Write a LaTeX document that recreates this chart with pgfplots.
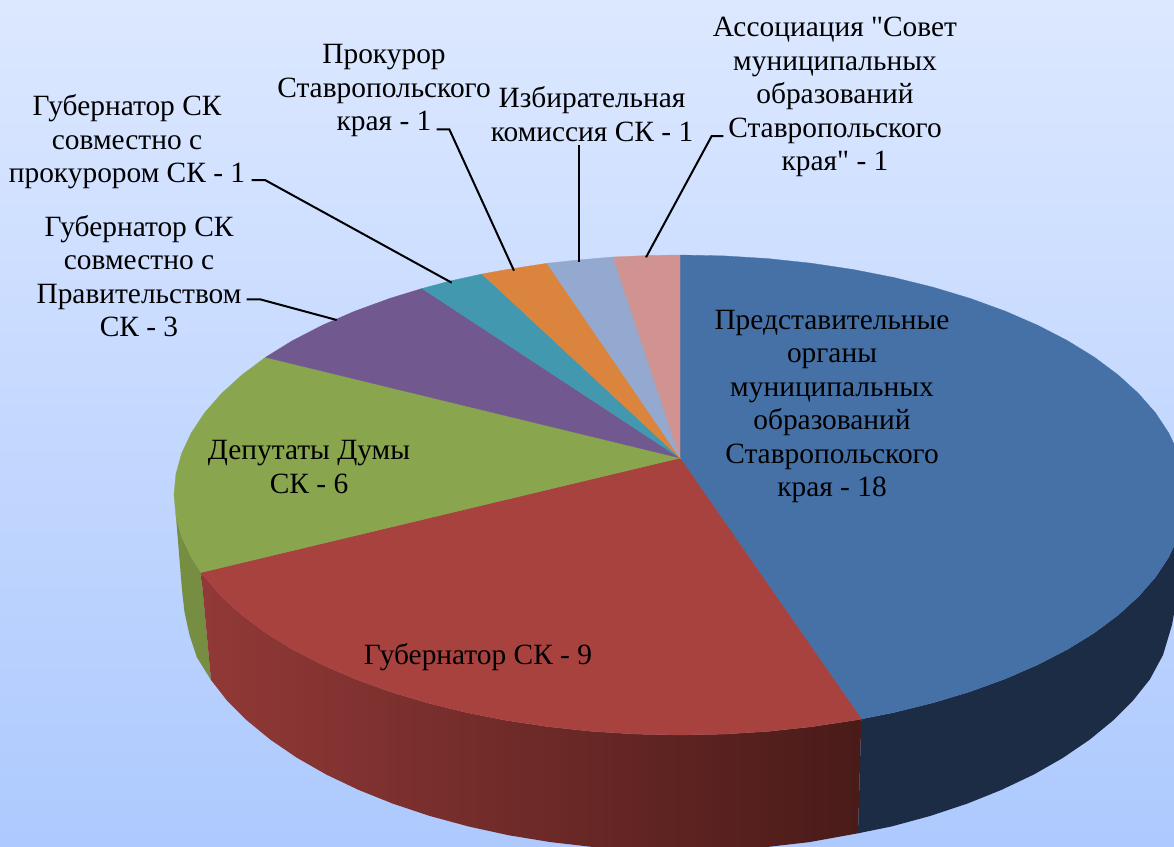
\documentclass[border=0pt]{standalone}
\usepackage{fontspec}
\setmainfont[Ligatures=TeXOff]{Liberation Serif}
\usepackage{pgfplots}
\pgfplotsset{compat=1.18}
\definecolor{bgtop}{RGB}{220,232,255}
\definecolor{bgbot}{RGB}{173,201,254}
\definecolor{cblue}{RGB}{70,113,166}
\definecolor{cred}{RGB}{168,66,63}
\definecolor{cgreen}{RGB}{137,165,78}
\definecolor{cpurple}{RGB}{113,88,143}
\definecolor{cteal}{RGB}{65,152,175}
\definecolor{corange}{RGB}{219,132,61}
\definecolor{clb}{RGB}{147,169,207}
\definecolor{cpink}{RGB}{209,147,146}
\definecolor{sblue}{RGB}{27,44,68}
\definecolor{sgreen}{RGB}{118,142,66}
\definecolor{sredl}{RGB}{146,57,55}
\definecolor{sredr}{RGB}{73,27,25}
\tikzset{
  lab/.style={font=\fontsize{29.4}{33.5}\selectfont, align=center, anchor=center, inner sep=0pt, text=black},
  lead/.style={black, line width=2pt, sharp plot},
}
\begin{document}
\begin{tikzpicture}
\begin{axis}[
  scale only axis, width=1174pt, height=846pt,
  xmin=0, xmax=1174, ymin=0, ymax=846, y dir=reverse,
  hide axis, no markers, clip=true,
]
% background
\addplot[draw=none, top color=bgtop, bottom color=bgbot] coordinates {(0,0) (1174,0) (1174,846) (0,846)} --cycle;
% sides
\addplot[draw=none, fill=sgreen] coordinates {
 (201,572.5)(191.3,557.1)(181.7,536.7)(175.9,515.9)
 (182,590)(184.5,612)(189.5,635)(197,657.5)(211,680)} --cycle;
\addplot[draw=none, fill=sblue] coordinates {
 (861.3,719)(893.8,712.5)(933,702.8)(970.2,691.6)(1005.3,678.8)(1037.8,664.7)(1067.6,649.3)(1094.5,632.7)(1118.2,615)(1138.6,596.4)(1155.5,577.1)(1168.7,557.1)(1178.3,536.7)(1184.1,515.9)
 (1180,590)(1176,602)(1172,625)(1163,655)(1149.9,679.3)(1133.2,700.3)(1113,720.5)(1089.6,739.7)(1063,757.8)(1033.6,774.6)(1001.4,789.9)(966.8,803.8)(930,816)(891.3,826.5)(858,833.3)} --cycle;
\addplot[draw=none, left color=sredl, right color=sredr] coordinates {
 (861.3,719)(853.1,720.5)(811,726.8)(767.8,731.4)(724.1,734.1)(680,735)(635.9,734.1)(592.2,731.4)(549,726.8)(506.9,720.5)(466.2,712.5)(427,702.8)(389.8,691.6)(354.7,678.8)(322.2,664.7)(292.4,649.3)(265.5,632.7)(241.8,615)(221.4,596.4)(201,572.5)
 (211,680)(226.8,700.3)(247,720.5)(270.4,739.7)(297,757.8)(326.4,774.6)(358.6,789.9)(393.2,803.8)(430,816)(468.7,826.5)(509,835.3)(550.6,842.1)(593.2,847)(636.4,850)(680,851)(723.6,850)(766.8,847)(809.4,842.1)(858,833.3)} --cycle;
% top faces
\addplot[draw=cblue, line width=0.3pt, fill=cblue] coordinates {
 (680,458)(680,255)(724.1,255.9)(767.8,258.6)(811,263.2)(853.1,269.5)(893.8,277.5)(933,287.2)(970.2,298.4)(1005.3,311.2)(1037.8,325.3)(1067.6,340.7)(1094.5,357.3)(1118.2,375)(1138.6,393.6)(1155.5,412.9)(1168.7,432.9)(1178.3,453.3)(1184.1,474.1)(1186,495)(1184.1,515.9)(1178.3,536.7)(1168.7,557.1)(1155.5,577.1)(1138.6,596.4)(1118.2,615)(1094.5,632.7)(1067.6,649.3)(1037.8,664.7)(1005.3,678.8)(970.2,691.6)(933,702.8)(893.8,712.5)(861.3,719)} --cycle;
\addplot[draw=cred, line width=0.3pt, fill=cred] coordinates {
 (680,458)(861.3,719)(853.1,720.5)(811,726.8)(767.8,731.4)(724.1,734.1)(680,735)(635.9,734.1)(592.2,731.4)(549,726.8)(506.9,720.5)(466.2,712.5)(427,702.8)(389.8,691.6)(354.7,678.8)(322.2,664.7)(292.4,649.3)(265.5,632.7)(241.8,615)(221.4,596.4)(201,572.5)} --cycle;
\addplot[draw=cgreen, line width=0.3pt, fill=cgreen] coordinates {
 (680,458)(201,572.5)(191.3,557.1)(181.7,536.7)(175.9,515.9)(174,495)(175.9,474.1)(181.7,453.3)(191.3,432.9)(204.5,412.9)(221.4,393.6)(241.8,375)(265.5,357.3)} --cycle;
\addplot[draw=cpurple, line width=0.3pt, fill=cpurple] coordinates {
 (680,458)(265.5,357.3)(292.4,340.7)(322.2,325.3)(354.7,311.2)(389.8,298.4)(422,288.5)} --cycle;
\addplot[draw=cteal, line width=0.3pt, fill=cteal] coordinates {
 (680,458)(422,288.5)(450,281)(482,274)} --cycle;
\addplot[draw=corange, line width=0.3pt, fill=corange] coordinates {
 (680,458)(482,274)(506.9,269.5)(547,263.3)} --cycle;
\addplot[draw=clb, line width=0.3pt, fill=clb] coordinates {
 (680,458)(547,263.3)(580,259.8)(613,257)} --cycle;
\addplot[draw=cpink, line width=0.3pt, fill=cpink] coordinates {
 (680,458)(613,257)(650,255.4)(680,255)} --cycle;
% leader lines
\addplot[lead] coordinates {(436.7,129.3)(449.3,129.3)(514,270.7)};
\addplot[lead] coordinates {(579.3,145)(579.3,261.7)};
\addplot[lead] coordinates {(723.3,136)(711.7,136)(646,257.3)};
\addplot[lead] coordinates {(251.7,180)(265,180)(451.7,282.7)};
\addplot[lead] coordinates {(246.7,299.3)(260,299.3)(336.7,320)};
% labels
\node[lab] at (axis cs:835,97) {Ассоциация "Совет\\муниципальных\\образований\\Ставропольского\\края" - 1};
\node[lab] at (axis cs:592,114) {Избирательная\\комиссия СК - 1};
\node[lab] at (axis cs:384,91) {Прокурор\\Ставропольского\\края - 1};
\node[lab] at (axis cs:127,142) {Губернатор СК\\совместно с\\прокурором СК - 1};
\node[lab] at (axis cs:139,276) {Губернатор СК\\совместно с\\Правительством\\СК - 3};
\node[lab] at (axis cs:832,406.5) {Представительные\\органы\\муниципальных\\образований\\Ставропольского\\края - 18};
\node[lab] at (axis cs:309,467) {Депутаты Думы\\СК - 6};
\node[lab] at (axis cs:478,657) {Губернатор СК - 9};
\end{axis}
\end{tikzpicture}
\end{document}
